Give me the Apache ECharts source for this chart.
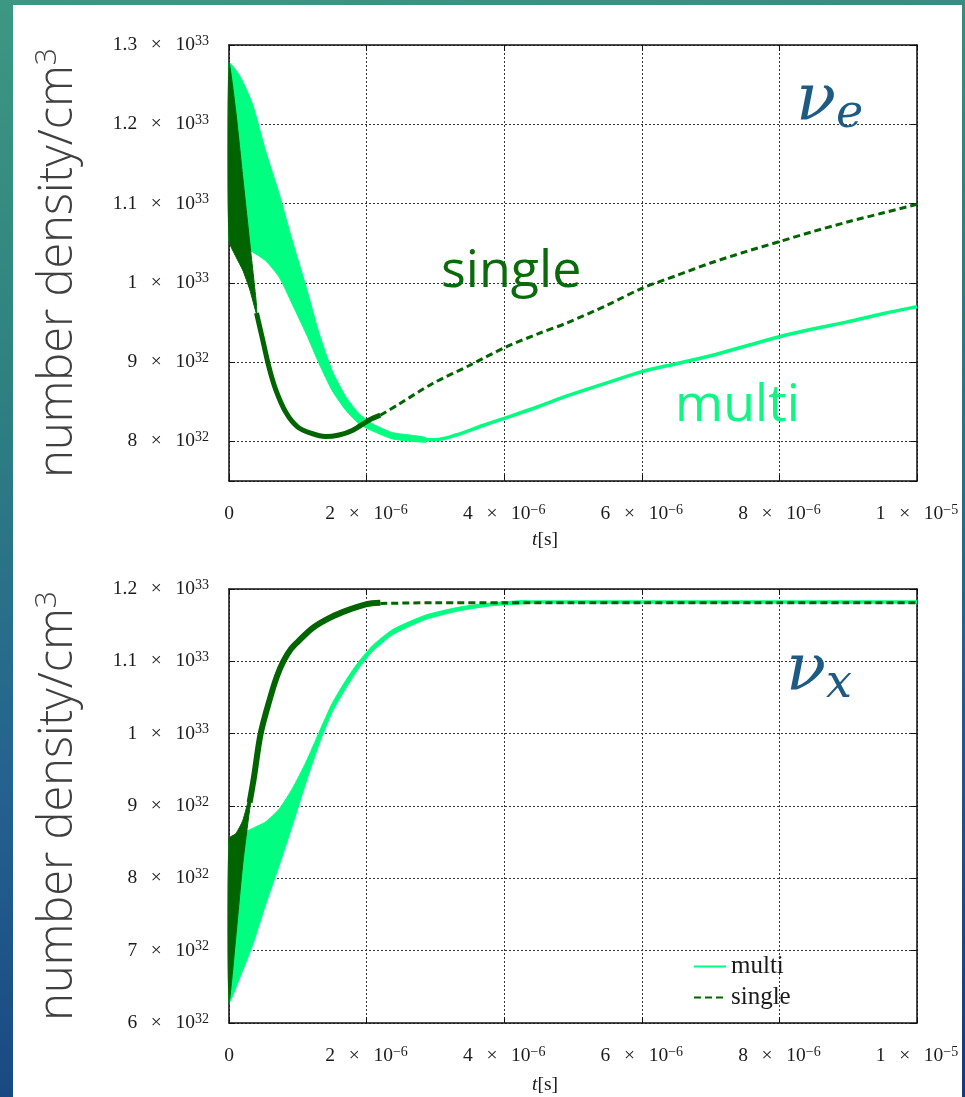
<!DOCTYPE html>
<html><head><meta charset="utf-8">
<script src="https://cdn.jsdelivr.net/npm/echarts@6/dist/echarts.min.js"></script>
<style>
html,body{margin:0;padding:0;}
body{width:965px;height:1097px;overflow:hidden;position:relative;
 background:linear-gradient(170deg,#3c9882 0%,#2f8180 30%,#246290 62%,#143c7a 100%);}
#panel{position:absolute;left:13px;top:5px;width:949px;height:1092px;background:#fff;}
#chart{position:absolute;left:0;top:0;width:965px;height:1097px;}
</style></head>
<body><div id="panel"></div><div id="chart"></div>
<script>
// time in microseconds (1e-6 s); densities in units of 1e32 /cm^3
const xTicks = [0, 2, 4, 6, 8, 10];

// ---- nu_e panel ----
const tTopMultiBand = [0, 0.15, 0.34, 0.53, 0.73, 0.92, 1.12, 1.31, 1.5, 1.7, 1.89, 2.09, 2.38, 2.86];
const topMultiUpper = [12.77, 12.62, 12.26, 11.67, 11.12, 10.53, 9.95, 9.36, 8.89, 8.56, 8.35, 8.22, 8.11, 8.05];
const topMultiLower = [10.53, 10.46, 10.39, 10.28, 10.07, 9.73, 9.36, 8.98, 8.64, 8.39, 8.22, 8.13, 8.03, 7.99];
const tTopMultiLine = [2.86, 3.0, 3.3, 3.69, 4.0, 4.5, 4.9, 5.5, 6.0, 6.5, 7.0, 7.5, 8.0, 8.5, 9.0, 9.5, 10];
const topMultiLine  = [8.02, 8.02, 8.08, 8.2, 8.29, 8.44, 8.57, 8.74, 8.88, 8.98, 9.08, 9.2, 9.32, 9.42, 9.51, 9.61, 9.70];

const tTopSingleBand = [0, 0.1, 0.2, 0.3, 0.4];
const topSingleUpper = [12.77, 12.15, 11.33, 10.52, 9.72];
const topSingleLower = [10.53, 10.33, 10.16, 9.92, 9.61];
const tTopSingleThick = [0.4, 0.49, 0.58, 0.68, 0.83, 1.0, 1.2, 1.4, 1.6, 1.8, 2.04, 2.2];
const topSingleThick  = [9.62, 9.28, 8.94, 8.65, 8.36, 8.18, 8.10, 8.06, 8.08, 8.14, 8.27, 8.33];
const tTopSingleDash = [2.2, 2.47, 2.96, 3.5, 4, 4.5, 4.9, 5.5, 6, 6.5, 7, 7.5, 8, 8.5, 9, 9.5, 10];
const topSingleDash  = [8.33, 8.47, 8.73, 8.96, 9.18, 9.36, 9.49, 9.72, 9.93, 10.09, 10.25, 10.39, 10.52, 10.65, 10.77, 10.88, 10.99];

// ---- nu_x panel ----
const tBotMultiBand = [0, 0.15, 0.34, 0.53, 0.73, 0.92, 1.12, 1.31, 1.5, 1.7, 1.89, 2.09, 2.38, 2.86, 3.35, 3.83, 4.32];
const botMultiUpper = [8.5, 8.6, 8.69, 8.78, 8.96, 9.24, 9.61, 10.02, 10.42, 10.74, 11.0, 11.22, 11.44, 11.64, 11.75, 11.81, 11.84];
const botMultiLower = [6.29, 6.61, 7.07, 7.63, 8.18, 8.73, 9.33, 9.86, 10.30, 10.63, 10.91, 11.14, 11.37, 11.58, 11.70, 11.77, 11.80];
const tBotMultiLine = [4.32, 5, 6, 7, 8, 9, 10];
const botMultiLine  = [11.82, 11.82, 11.82, 11.82, 11.82, 11.82, 11.82];

const tBotSingleBand = [0, 0.1, 0.2, 0.3, 0.36];
const botSingleUpper = [8.55, 8.62, 8.8, 9.15, 9.45];
const botSingleLower = [6.29, 7.2, 8.2, 8.95, 9.3];
const tBotSingleThick = [0.3, 0.36, 0.46, 0.6, 0.7, 0.79, 0.9, 1.0, 1.2, 1.4, 1.65, 2.0, 2.2];
const botSingleThick  = [9.05, 9.38, 10.0, 10.5, 10.8, 11.0, 11.17, 11.27, 11.45, 11.57, 11.68, 11.79, 11.81];
const tBotSingleDash = [2.2, 3, 4, 5, 6, 7, 8, 9, 10];
const botSingleDash  = [11.80, 11.81, 11.81, 11.81, 11.81, 11.81, 11.81, 11.81, 11.81];

const LIGHT = '#00ff80', DARK = '#006400';
const SERIF = 'Liberation Serif';
const SP = '\u2002\u2009';

const rich = {
  m: {fontFamily: SERIF, fontSize: 19.5, color: '#1a1a1a', lineHeight: 22},
  s: {fontFamily: SERIF, fontSize: 14, color: '#1a1a1a', lineHeight: 13, verticalAlign: 'top'}
};
function sci(mant, exp) { return '{m|' + mant + SP + '\u00d7' + SP + '10}{s|' + exp + '}'; }
function yFmt(v) {
  const r = Math.round(v * 10) / 10;
  if (Math.abs(r - Math.round(r)) > 1e-6) return '';
  const n = Math.round(r);
  if (n >= 10) return sci(String(n / 10), '33');
  return sci(String(n), '32');
}
function xFmt(v) {
  const n = Math.round(v);
  if (n === 0) return '{m|0}';
  if (n === 10) return sci('1', '\u22125');
  return sci(String(n), '\u22126');
}

const axisLine = {show: true, onZero: false, lineStyle: {color: '#111', width: 1.5}};
const tick = {show: true, inside: true, length: 6, lineStyle: {color: '#111', width: 1}};
const split = {show: true, lineStyle: {color: '#333', type: [2, 2], width: 1}};
const yName = '{a|number density/cm}{b|3}';
const yNameStyle = {rich: {
  a: {fontFamily: 'Open Sans', fontWeight: 300, fontSize: 47, color: '#404040', lineHeight: 54},
  b: {fontFamily: 'Open Sans', fontWeight: 300, fontSize: 30, color: '#404040', lineHeight: 30, verticalAlign: 'top'}
}};

function xAxes(g) {
  return [
    {type: 'value', gridIndex: g, min: 0, max: 10, interval: 2, position: 'bottom',
     axisLine, axisTick: tick, splitLine: split,
     axisLabel: {formatter: xFmt, rich, margin: 22, showMinLabel: true, showMaxLabel: true}},
    {type: 'value', gridIndex: g, min: 0, max: 10, interval: 2, position: 'top',
     axisLine, axisTick: tick, splitLine: {show: false}, axisLabel: {show: false}}
  ];
}
function yAxes(g, min, max, extra) {
  return [
    Object.assign({type: 'value', gridIndex: g, min, max, position: 'left',
     axisLine, axisTick: tick, splitLine: split,
     axisLabel: {formatter: yFmt, rich, margin: 20, showMinLabel: true, showMaxLabel: true},
     name: yName, nameLocation: 'middle', nameGap: 143, nameTextStyle: yNameStyle}, extra),
    Object.assign({type: 'value', gridIndex: g, min, max, position: 'right',
     axisLine, axisTick: tick, splitLine: {show: false}, axisLabel: {show: false}}, extra)
  ];
}

function band(name, xi, yi, t, lo, hi, color, z) {
  return {type: 'custom', name, xAxisIndex: xi, yAxisIndex: yi, z, silent: true,
    data: t.map((x, i) => [x, lo[i], hi[i]]),
    encode: {x: 0, y: [1, 2]},
    renderItem: function (params, api) {
      if (params.dataIndex !== 0) return;
      const n = params.dataInsideLength;
      const pts = [];
      for (let i = 0; i < n; i++) pts.push(api.coord([api.value(0, i), api.value(2, i)]));
      for (let i = n - 1; i >= 0; i--) pts.push(api.coord([api.value(0, i), api.value(1, i)]));
      return {type: 'polygon', shape: {points: pts, smooth: 0.2},
              style: {fill: color, stroke: color, lineWidth: 1}};
    }};
}
function line(name, xi, yi, t, v, color, width, type, z) {
  return {type: 'line', name, xAxisIndex: xi, yAxisIndex: yi, z, silent: true,
    data: t.map((x, i) => [x, v[i]]), symbol: 'none', showSymbol: false, smooth: 0.3,
    lineStyle: {color, width, type}, itemStyle: {color}};
}

const nuRich = {
  n: {fontFamily: 'DejaVu Serif', fontStyle: 'italic', fontSize: 66, fill: '#1d5b84', lineHeight: 70},
  e: {fontFamily: 'DejaVu Serif', fontStyle: 'italic', fontSize: 46, fill: '#1d5b84', lineHeight: 4, verticalAlign: 'bottom'}
};
const tsRich = {
  i: {fontFamily: SERIF, fontStyle: 'italic', fontSize: 19.5, fill: '#1a1a1a'},
  r: {fontFamily: SERIF, fontSize: 19.5, fill: '#1a1a1a'}
};

const chart = echarts.init(document.getElementById('chart'), null, {renderer: 'canvas'});
chart.setOption({
  animation: false,
  backgroundColor: 'transparent',
  grid: [
    {left: 229, top: 45, width: 688, height: 436, containLabel: false, outerBoundsMode: 'none'},
    {left: 229, top: 589, width: 688, height: 434, containLabel: false, outerBoundsMode: 'none'}
  ],
  xAxis: [].concat(xAxes(0), xAxes(1)),
  yAxis: [].concat(yAxes(0, 7.5, 13, {splitNumber: 5}), yAxes(1, 6, 12, {interval: 1})),
  legend: {data: ['multi', 'single'], orient: 'vertical', left: 688, top: 949,
    itemWidth: 32, itemHeight: 12, itemGap: 6, selectedMode: false,
    itemStyle: {opacity: 0},
    textStyle: {fontFamily: SERIF, fontSize: 25, color: '#1a1a1a'}},
  series: [
    band('multi band', 0, 0, tTopMultiBand, topMultiLower, topMultiUpper, LIGHT, 2),
    line('multi', 0, 0, tTopMultiLine, topMultiLine, LIGHT, 3.5, 'solid', 3),
    band('single band', 0, 0, tTopSingleBand, topSingleLower, topSingleUpper, DARK, 4),
    line('single thick', 0, 0, tTopSingleThick, topSingleThick, DARK, 5, 'solid', 5),
    line('single', 0, 0, tTopSingleDash, topSingleDash, DARK, 3, [7, 4], 6),

    band('multi band', 2, 2, tBotMultiBand, botMultiLower, botMultiUpper, LIGHT, 2),
    line('multi', 2, 2, tBotMultiLine, botMultiLine, LIGHT, 3.5, 'solid', 3),
    band('single band', 2, 2, tBotSingleBand, botSingleLower, botSingleUpper, DARK, 4),
    line('single thick', 2, 2, tBotSingleThick, botSingleThick, DARK, 6, 'solid', 5),
    line('single', 2, 2, tBotSingleDash, botSingleDash, DARK, 3, [7, 4], 6)
  ],
  graphic: [
    {type: 'text', left: 441, top: 246, z: 20, silent: true,
     style: {text: 'single', fontFamily: 'Open Sans', fontSize: 52, fill: '#0b6a0b'}},
    {type: 'text', left: 675, top: 380, z: 20, silent: true,
     style: {text: 'multi', fontFamily: 'Open Sans', fontSize: 52, fill: '#12f584'}},
    {type: 'text', left: 796, top: 70, z: 20, silent: true,
     style: {text: '{n|\u03bd}{e|e}', rich: nuRich}},
    {type: 'text', left: 786, top: 640, z: 20, silent: true,
     style: {text: '{n|\u03bd}{e|x}', rich: nuRich}},
    {type: 'text', left: 532, top: 530, z: 20, silent: true,
     style: {text: '{i|t}{r|[s]}', rich: tsRich}},
    {type: 'text', left: 532, top: 1075, z: 20, silent: true,
     style: {text: '{i|t}{r|[s]}', rich: tsRich}}
  ]
});
</script></body></html>
